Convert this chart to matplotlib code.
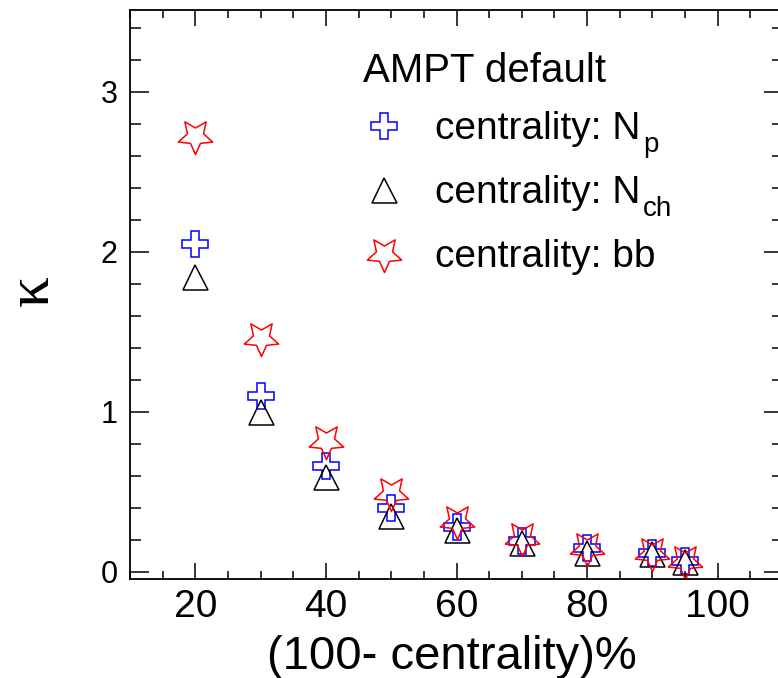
import numpy as np
import matplotlib
matplotlib.use("Agg")
import matplotlib.pyplot as plt
from matplotlib.path import Path
from matplotlib.ticker import MultipleLocator

plt.rcParams['font.family'] = ['Liberation Sans', 'DejaVu Sans']

# (100 - centrality)% bins
x = [20, 30, 40, 50, 60, 70, 80, 90, 95]
# kappa for the three centrality definitions (AMPT default)
kappa_np = [2.05, 1.10, 0.66, 0.40, 0.28, 0.19, 0.15, 0.12, 0.07]
kappa_nch = [1.84, 1.00, 0.59, 0.35, 0.26, 0.18, 0.12, 0.11, 0.06]
kappa_bb = [2.72, 1.46, 0.82, 0.49, 0.32, 0.21, 0.15, 0.12, 0.07]

labels = ['centrality: N', 'centrality: N', 'centrality: bb']
subscripts = ['p', 'ch', '']

# ROOT style open star, pointing down
st = Path.unit_regular_star(5, innerCircle=0.47)
star = Path(st.vertices * [1, -1], st.codes)

fig = plt.figure(figsize=(7.78, 6.78), dpi=100)
ax = fig.add_axes([130/778, 99/678, 653/778, 569/678])

ax.plot(x, kappa_np, ls='none', marker='P', ms=18.5, mfc='none', mec='blue',
        mew=1.1, label=labels[0])
ax.plot(x, kappa_nch, ls='none', marker='^', ms=18, mfc='none', mec='black',
        mew=1.1, label=labels[1])
ax.plot(x, kappa_bb, ls='none', marker=star, ms=26, mfc='none', mec='red',
        mew=1.1, label=labels[2])

ax.set_xlim(10, 110)
ax.set_ylim(-0.045, 3.51)
ax.xaxis.set_major_locator(MultipleLocator(20))
ax.xaxis.set_minor_locator(MultipleLocator(5))
ax.yaxis.set_major_locator(MultipleLocator(1))
ax.yaxis.set_minor_locator(MultipleLocator(0.2))
ax.tick_params(which='both', direction='in', top=True, right=True, width=1.1)
ax.tick_params(axis='x', which='major', length=11.5, labelsize=28, pad=7)
ax.tick_params(axis='x', which='minor', length=6)
ax.tick_params(axis='y', which='major', length=14, labelsize=22, pad=9)
ax.tick_params(axis='y', which='minor', length=8)
for sp in ax.spines.values():
    sp.set_linewidth(1.3)

# legend, title drawn separately so the rows keep an even pitch
ax.text(0.357, 0.8735, 'AMPT default', transform=ax.transAxes,
        fontsize=29, va='baseline', ha='left')
leg = ax.legend(loc='upper left', bbox_to_anchor=(0.359, 0.822),
                frameon=False, fontsize=28, handletextpad=0.81,
                labelspacing=0.72, handlelength=1.0, borderpad=0,
                borderaxespad=0)
# subscripts hang off the legend labels (drawn after the legend)
for txt, sub in zip(leg.get_texts(), subscripts):
    if sub:
        ax.annotate(sub, xy=(1, 0), xycoords=txt, xytext=(2, -3.5),
                    textcoords='offset points', fontsize=20,
                    va='baseline', ha='left', zorder=10)

fig.text(33/778, 1 - 291/678, 'κ', rotation=90, ha='center', va='center',
         fontsize=44, family='Liberation Serif')
fig.text(452/778, 1 - 657/678, '(100- centrality)%', ha='center',
         va='center', fontsize=34)

fig.savefig('out.png', dpi=100)
